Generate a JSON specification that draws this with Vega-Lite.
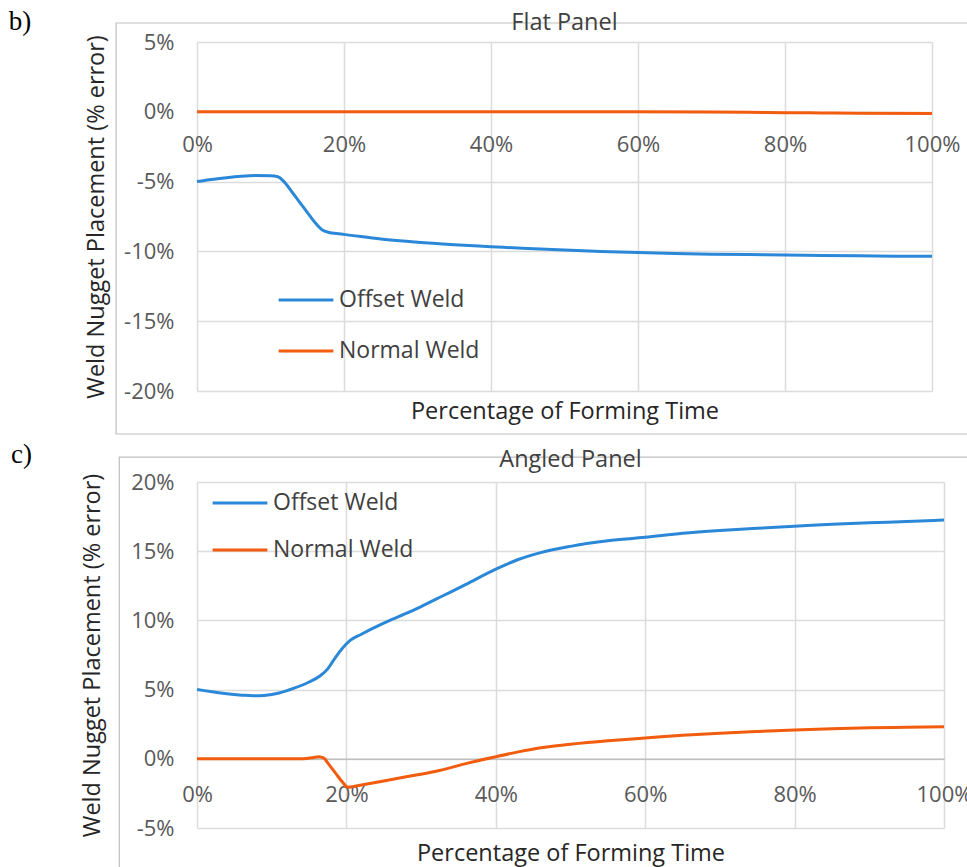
{
  "$schema": "https://vega.github.io/schema/vega-lite/v6.json",
  "background": "white",
  "padding": {"left": 8, "top": 8, "right": 0, "bottom": 0},
  "autosize": {"type": "pad"},
  "spacing": 6,
  "config": {
    "view": {"stroke": null},
    "font": "Open Sans",
    "axis": {
      "grid": true, "gridColor": "#dcdcdc", "gridWidth": 1.5,
      "ticks": false, "domain": false,
      "labelFont": "Open Sans", "labelFontSize": 22, "labelColor": "#595959",
      "titleFont": "Open Sans", "titleFontSize": 23.5, "titleColor": "#262626", "titleFontWeight": "normal",
      "labelFlush": false, "labelOverlap": false
    },
    "legend": {
      "labelFont": "Open Sans", "labelFontSize": 23, "labelColor": "#404040",
      "symbolType": "stroke", "symbolSize": 3000, "symbolStrokeWidth": 3, "labelOffset": 4
    }
  },
  "datasets": {
    "d": [
      {"panel": "Flat", "series": "Offset Weld", "t": 0, "v": -5.0},
      {"panel": "Flat", "series": "Offset Weld", "t": 2, "v": -4.85},
      {"panel": "Flat", "series": "Offset Weld", "t": 4, "v": -4.72},
      {"panel": "Flat", "series": "Offset Weld", "t": 6, "v": -4.62},
      {"panel": "Flat", "series": "Offset Weld", "t": 8, "v": -4.57},
      {"panel": "Flat", "series": "Offset Weld", "t": 10, "v": -4.58},
      {"panel": "Flat", "series": "Offset Weld", "t": 11, "v": -4.65},
      {"panel": "Flat", "series": "Offset Weld", "t": 12, "v": -5.1},
      {"panel": "Flat", "series": "Offset Weld", "t": 13, "v": -5.8},
      {"panel": "Flat", "series": "Offset Weld", "t": 14, "v": -6.5},
      {"panel": "Flat", "series": "Offset Weld", "t": 15, "v": -7.2},
      {"panel": "Flat", "series": "Offset Weld", "t": 16, "v": -7.9},
      {"panel": "Flat", "series": "Offset Weld", "t": 17, "v": -8.45},
      {"panel": "Flat", "series": "Offset Weld", "t": 18, "v": -8.65},
      {"panel": "Flat", "series": "Offset Weld", "t": 19, "v": -8.72},
      {"panel": "Flat", "series": "Offset Weld", "t": 20, "v": -8.78},
      {"panel": "Flat", "series": "Offset Weld", "t": 25, "v": -9.12},
      {"panel": "Flat", "series": "Offset Weld", "t": 30, "v": -9.35},
      {"panel": "Flat", "series": "Offset Weld", "t": 35, "v": -9.52},
      {"panel": "Flat", "series": "Offset Weld", "t": 40, "v": -9.66},
      {"panel": "Flat", "series": "Offset Weld", "t": 45, "v": -9.8},
      {"panel": "Flat", "series": "Offset Weld", "t": 50, "v": -9.9},
      {"panel": "Flat", "series": "Offset Weld", "t": 55, "v": -10.0},
      {"panel": "Flat", "series": "Offset Weld", "t": 60, "v": -10.08},
      {"panel": "Flat", "series": "Offset Weld", "t": 65, "v": -10.15},
      {"panel": "Flat", "series": "Offset Weld", "t": 70, "v": -10.2},
      {"panel": "Flat", "series": "Offset Weld", "t": 75, "v": -10.23},
      {"panel": "Flat", "series": "Offset Weld", "t": 80, "v": -10.25},
      {"panel": "Flat", "series": "Offset Weld", "t": 85, "v": -10.29},
      {"panel": "Flat", "series": "Offset Weld", "t": 90, "v": -10.32},
      {"panel": "Flat", "series": "Offset Weld", "t": 95, "v": -10.34},
      {"panel": "Flat", "series": "Offset Weld", "t": 100, "v": -10.35},
      {"panel": "Flat", "series": "Normal Weld", "t": 0, "v": 0},
      {"panel": "Flat", "series": "Normal Weld", "t": 20, "v": 0},
      {"panel": "Flat", "series": "Normal Weld", "t": 40, "v": 0},
      {"panel": "Flat", "series": "Normal Weld", "t": 60, "v": 0},
      {"panel": "Flat", "series": "Normal Weld", "t": 70, "v": -0.01},
      {"panel": "Flat", "series": "Normal Weld", "t": 75, "v": -0.03},
      {"panel": "Flat", "series": "Normal Weld", "t": 80, "v": -0.06},
      {"panel": "Flat", "series": "Normal Weld", "t": 85, "v": -0.08},
      {"panel": "Flat", "series": "Normal Weld", "t": 90, "v": -0.1},
      {"panel": "Flat", "series": "Normal Weld", "t": 100, "v": -0.12},
      {"panel": "Angled", "series": "Offset Weld", "t": 0, "v": 5.0},
      {"panel": "Angled", "series": "Offset Weld", "t": 2, "v": 4.85},
      {"panel": "Angled", "series": "Offset Weld", "t": 4, "v": 4.7},
      {"panel": "Angled", "series": "Offset Weld", "t": 6, "v": 4.6},
      {"panel": "Angled", "series": "Offset Weld", "t": 7.5, "v": 4.55},
      {"panel": "Angled", "series": "Offset Weld", "t": 9, "v": 4.58},
      {"panel": "Angled", "series": "Offset Weld", "t": 11, "v": 4.75},
      {"panel": "Angled", "series": "Offset Weld", "t": 13, "v": 5.1},
      {"panel": "Angled", "series": "Offset Weld", "t": 15, "v": 5.55},
      {"panel": "Angled", "series": "Offset Weld", "t": 16.5, "v": 6.0},
      {"panel": "Angled", "series": "Offset Weld", "t": 17.5, "v": 6.5},
      {"panel": "Angled", "series": "Offset Weld", "t": 18.5, "v": 7.3},
      {"panel": "Angled", "series": "Offset Weld", "t": 19.5, "v": 8.0},
      {"panel": "Angled", "series": "Offset Weld", "t": 20.5, "v": 8.55},
      {"panel": "Angled", "series": "Offset Weld", "t": 22, "v": 9.0},
      {"panel": "Angled", "series": "Offset Weld", "t": 25, "v": 9.8},
      {"panel": "Angled", "series": "Offset Weld", "t": 28, "v": 10.5},
      {"panel": "Angled", "series": "Offset Weld", "t": 30, "v": 11.0},
      {"panel": "Angled", "series": "Offset Weld", "t": 33, "v": 11.8},
      {"panel": "Angled", "series": "Offset Weld", "t": 36, "v": 12.6},
      {"panel": "Angled", "series": "Offset Weld", "t": 40, "v": 13.7},
      {"panel": "Angled", "series": "Offset Weld", "t": 43, "v": 14.4},
      {"panel": "Angled", "series": "Offset Weld", "t": 46, "v": 14.9},
      {"panel": "Angled", "series": "Offset Weld", "t": 50, "v": 15.35},
      {"panel": "Angled", "series": "Offset Weld", "t": 55, "v": 15.75},
      {"panel": "Angled", "series": "Offset Weld", "t": 60, "v": 16.0},
      {"panel": "Angled", "series": "Offset Weld", "t": 65, "v": 16.3},
      {"panel": "Angled", "series": "Offset Weld", "t": 70, "v": 16.5},
      {"panel": "Angled", "series": "Offset Weld", "t": 75, "v": 16.65},
      {"panel": "Angled", "series": "Offset Weld", "t": 80, "v": 16.8},
      {"panel": "Angled", "series": "Offset Weld", "t": 85, "v": 16.95},
      {"panel": "Angled", "series": "Offset Weld", "t": 90, "v": 17.05},
      {"panel": "Angled", "series": "Offset Weld", "t": 95, "v": 17.15},
      {"panel": "Angled", "series": "Offset Weld", "t": 100, "v": 17.25},
      {"panel": "Angled", "series": "Normal Weld", "t": 0, "v": 0},
      {"panel": "Angled", "series": "Normal Weld", "t": 5, "v": 0},
      {"panel": "Angled", "series": "Normal Weld", "t": 10, "v": 0},
      {"panel": "Angled", "series": "Normal Weld", "t": 14, "v": 0},
      {"panel": "Angled", "series": "Normal Weld", "t": 15.5, "v": 0.08},
      {"panel": "Angled", "series": "Normal Weld", "t": 16.3, "v": 0.15},
      {"panel": "Angled", "series": "Normal Weld", "t": 17, "v": 0.05},
      {"panel": "Angled", "series": "Normal Weld", "t": 17.5, "v": -0.3},
      {"panel": "Angled", "series": "Normal Weld", "t": 18.5, "v": -1.0},
      {"panel": "Angled", "series": "Normal Weld", "t": 19.5, "v": -1.7},
      {"panel": "Angled", "series": "Normal Weld", "t": 20.2, "v": -2.05},
      {"panel": "Angled", "series": "Normal Weld", "t": 21, "v": -2.0},
      {"panel": "Angled", "series": "Normal Weld", "t": 22, "v": -1.9},
      {"panel": "Angled", "series": "Normal Weld", "t": 25, "v": -1.6},
      {"panel": "Angled", "series": "Normal Weld", "t": 28, "v": -1.3},
      {"panel": "Angled", "series": "Normal Weld", "t": 32, "v": -0.9},
      {"panel": "Angled", "series": "Normal Weld", "t": 36, "v": -0.35},
      {"panel": "Angled", "series": "Normal Weld", "t": 40, "v": 0.15},
      {"panel": "Angled", "series": "Normal Weld", "t": 43, "v": 0.5},
      {"panel": "Angled", "series": "Normal Weld", "t": 46, "v": 0.8},
      {"panel": "Angled", "series": "Normal Weld", "t": 50, "v": 1.05},
      {"panel": "Angled", "series": "Normal Weld", "t": 55, "v": 1.3},
      {"panel": "Angled", "series": "Normal Weld", "t": 60, "v": 1.5},
      {"panel": "Angled", "series": "Normal Weld", "t": 65, "v": 1.7},
      {"panel": "Angled", "series": "Normal Weld", "t": 70, "v": 1.85},
      {"panel": "Angled", "series": "Normal Weld", "t": 75, "v": 1.97},
      {"panel": "Angled", "series": "Normal Weld", "t": 80, "v": 2.08},
      {"panel": "Angled", "series": "Normal Weld", "t": 85, "v": 2.17},
      {"panel": "Angled", "series": "Normal Weld", "t": 90, "v": 2.24},
      {"panel": "Angled", "series": "Normal Weld", "t": 95, "v": 2.28},
      {"panel": "Angled", "series": "Normal Weld", "t": 100, "v": 2.32}
    ]
  },
  "resolve": {"scale": {"color": "independent", "x": "independent", "y": "independent"}, "legend": {"color": "independent"}},
  "vconcat": [
    {
      "width": 735, "height": 349,
      "title": {"text": "Flat Panel", "fontSize": 23.5, "fontWeight": "normal", "color": "#404040", "font": "Open Sans", "frame": "group", "offset": -26},
      "layer": [
        {
          "data": {"values": [{}]},
          "mark": {"type": "rect", "filled": false, "stroke": "#bfbfbf", "strokeWidth": 1.2, "clip": false},
          "encoding": {
            "x": {"datum": -11, "type": "quantitative", "scale": {"domain": [0, 100], "nice": false}},
            "x2": {"datum": 106},
            "y": {"datum": 6.36, "type": "quantitative", "scale": {"domain": [-20, 5], "nice": false}},
            "y2": {"datum": -23.08}
          }
        },
        {
          "data": {"values": [{}]},
          "mark": {"type": "text", "text": "b)", "font": "Liberation Serif", "fontSize": 27, "align": "left", "baseline": "middle", "clip": false, "color": "#000"},
          "encoding": {
            "x": {"datum": -25.6, "type": "quantitative"},
            "y": {"datum": 6.4, "type": "quantitative"}
          }
        },
        {
          "data": {"name": "d"},
          "transform": [{"filter": "datum.panel === 'Flat'"}],
          "mark": {"type": "line", "strokeWidth": 3, "interpolate": "monotone"},
          "encoding": {
            "x": {"field": "t", "type": "quantitative", "scale": {"domain": [0, 100], "nice": false},
              "axis": {"values": [0, 20, 40, 60, 80, 100], "labelExpr": "datum.value + '%'", "offset": -279.2, "labelPadding": 23, "title": "Percentage of Forming Time", "titleY": 288}},
            "y": {"field": "v", "type": "quantitative", "scale": {"domain": [-20, 5], "nice": false},
              "axis": {"values": [-20, -15, -10, -5, 0, 5], "labelExpr": "datum.value + '%'", "labelPadding": 23, "title": "Weld Nugget Placement (% error)", "titlePadding": 15}},
            "color": {"field": "series", "type": "nominal",
              "scale": {"domain": ["Offset Weld", "Normal Weld"], "range": ["#2b88d8", "#f25c0f"]},
              "legend": {"title": null, "orient": "none", "legendX": 80, "legendY": 229, "rowPadding": 10}}
          }
        }
      ]
    },
    {
      "width": 747, "height": 346,
      "title": {"text": "Angled Panel", "fontSize": 23.5, "fontWeight": "normal", "color": "#404040", "font": "Open Sans", "frame": "group", "offset": -30},
      "layer": [
        {
          "data": {"values": [{}]},
          "mark": {"type": "rect", "filled": false, "stroke": "#bfbfbf", "strokeWidth": 1.2, "clip": false},
          "encoding": {
            "x": {"datum": -10.4, "type": "quantitative", "scale": {"domain": [0, 100], "nice": false}},
            "x2": {"datum": 106},
            "y": {"datum": 21.8, "type": "quantitative", "scale": {"domain": [-5, 20], "nice": false}},
            "y2": {"datum": -8.6}
          }
        },
        {
          "data": {"values": [{}]},
          "mark": {"type": "text", "text": "c)", "font": "Liberation Serif", "fontSize": 27, "align": "left", "baseline": "middle", "clip": false, "color": "#000"},
          "encoding": {
            "x": {"datum": -24.9, "type": "quantitative"},
            "y": {"datum": 21.95, "type": "quantitative"}
          }
        },
        {
          "data": {"name": "d"},
          "transform": [{"filter": "datum.panel === 'Angled'"}],
          "mark": {"type": "line", "strokeWidth": 3, "interpolate": "monotone"},
          "encoding": {
            "x": {"field": "t", "type": "quantitative", "scale": {"domain": [0, 100], "nice": false},
              "axis": {"values": [0, 20, 40, 60, 80, 100], "labelExpr": "datum.value + '%'", "offset": -69.2, "labelPadding": 26, "domain": true, "domainColor": "#bfbfbf", "domainWidth": 1.5, "title": "Percentage of Forming Time", "titleY": 83}},
            "y": {"field": "v", "type": "quantitative", "scale": {"domain": [-5, 20], "nice": false},
              "axis": {"values": [-5, 0, 5, 10, 15, 20], "labelExpr": "datum.value + '%'", "labelPadding": 23, "title": "Weld Nugget Placement (% error)", "titlePadding": 26}},
            "color": {"field": "series", "type": "nominal",
              "scale": {"domain": ["Offset Weld", "Normal Weld"], "range": ["#2b88d8", "#f25c0f"]},
              "legend": {"title": null, "orient": "none", "legendX": 14, "legendY": -8, "rowPadding": 6}}
          }
        }
      ]
    }
  ]
}
